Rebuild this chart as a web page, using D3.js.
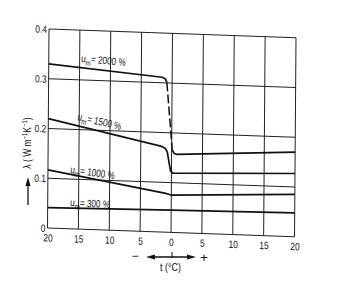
<!DOCTYPE html>
<html><head><meta charset="utf-8">
<script src="https://cdn.jsdelivr.net/npm/d3@7"></script>
<style>
html,body{margin:0;padding:0;background:#fff;}
svg text{font-family:"Liberation Sans",Arial,sans-serif;fill:#111;}
</style></head>
<body>
<svg id="c" width="347" height="285"></svg>
<script>
// ---- data ----
const xTicks = [-20,-15,-10,-5,0,5,10,15,20];
const xTickLabels = ["20","15","10","5","0","5","10","15","20"];
const yTicks = [0,0.1,0.2,0.3,0.4];
const yTickLabels = ["0","0.1","0.2","0.3","0.4"];
const seriesNames = ["2000","1500","1000","300"];
// u_m = 2000 %: frozen part, dashed transition, unfrozen part
const s2000Frozen = [[-20,0.330],[-1.6,0.311],[-1.1,0.308],[-0.85,0.301]];
const s2000Drop   = [[-0.85,0.301],[0.1,0.166]];
const s2000Thawed = [[0.1,0.166],[0.4,0.159],[0.8,0.157],[20,0.170]];
const s1500 = [[-20,0.220],[-1.6,0.172],[-1.0,0.168],[-0.7,0.161],[-0.15,0.123],[0.3,0.119],[20,0.127]];
const s1000 = [[-20,0.117],[-0.9,0.078],[-0.3,0.076],[0.1,0.075],[20,0.085]];
const s300  = [[-20,0.041],[0,0.0445],[20,0.048]];

// ---- layout ----
const W = 247, H = 199;
const SX = 0.8; // condensed look
const svg = d3.select("#c");
const g = svg.append("g").attr("transform","translate(49,29) matrix(1,0.0352,-0.0075,1,0,0)");
const x = d3.scaleLinear().domain([-20,20]).range([0,W]);
const y = d3.scaleLinear().domain([0,0.4]).range([H,0]);

// grid
g.append("g").selectAll("line").data(xTicks).join("line")
  .attr("x1",d=>x(d)).attr("x2",d=>x(d)).attr("y1",0).attr("y2",H)
  .attr("stroke","#222").attr("stroke-width",1);
g.append("g").selectAll("line").data(yTicks).join("line")
  .attr("x1",0).attr("x2",W).attr("y1",d=>y(d)).attr("y2",d=>y(d))
  .attr("stroke","#222").attr("stroke-width",1);

// tick labels via axes
const xAxis = d3.axisBottom(x).tickValues(xTicks).tickSize(0).tickPadding(6)
  .tickFormat((d,i)=>xTickLabels[i]);
const gx = g.append("g").attr("transform",`translate(0,${H})`).call(xAxis);
const yAxis = d3.axisLeft(y).tickValues(yTicks).tickSize(0).tickPadding(2)
  .tickFormat((d,i)=>yTickLabels[i]);
const gy = g.append("g").call(yAxis);
[gx,gy].forEach(a=>{a.select(".domain").remove();
  a.selectAll("text").attr("font-size",10.5).attr("fill","#111")
   .attr("transform",`scale(${SX},1)`)
   .style("font-family",'"Liberation Sans",Arial,sans-serif');});
gy.selectAll("text").attr("x",-2/SX);

// curves
const line = d3.line().x(d=>x(d[0])).y(d=>y(d[1]));
const solid = [s2000Frozen,s2000Thawed,s1500,s1000,s300];
g.append("g").selectAll("path").data(solid).join("path")
  .attr("d",line).attr("fill","none").attr("stroke","#111")
  .attr("stroke-width",1.7).attr("stroke-linejoin","round");
g.append("path").datum(s2000Drop).attr("d",line).attr("fill","none")
  .attr("stroke","#111").attr("stroke-width",1.5).attr("stroke-dasharray","9,3");

// curve labels
const labelPos = [[81,62,5],[77,120,13],[70,173,8],[70,206,3]];
seriesNames.forEach((n,i)=>{
  const [lx,ly,rot]=labelPos[i];
  const t = svg.append("text").attr("transform",`translate(${lx},${ly}) rotate(${rot}) scale(0.78,1)`)
    .attr("font-size",10.5);
  t.append("tspan").text("u");
  t.append("tspan").attr("font-size",8).attr("dy",3).text("m");
  t.append("tspan").attr("dy",-3).text("= " + n + " %");
});

// y title
const yt = svg.append("text").attr("transform","translate(31,143) rotate(-90) scale(0.85,1)")
  .attr("text-anchor","middle").attr("font-size",10);
yt.append("tspan").text("λ   ( W m");
yt.append("tspan").attr("font-size",7).attr("dy",-4).text("−1");
yt.append("tspan").attr("dy",4).text("K");
yt.append("tspan").attr("font-size",7).attr("dy",-4).text("−1");
yt.append("tspan").attr("dy",4).text(")");
svg.append("line").attr("x1",28).attr("x2",28).attr("y1",205).attr("y2",183)
  .attr("stroke","#111").attr("stroke-width",1.3);
svg.append("path").attr("d","M28,177 L25.5,186 L30.5,186 Z").attr("fill","#111");

// x title
svg.append("line").attr("x1",150).attr("x2",190).attr("y1",257).attr("y2",257)
  .attr("stroke","#111").attr("stroke-width",1.3);
svg.append("path").attr("d","M146,257 L155,254.5 L155,259.5 Z").attr("fill","#111");
svg.append("path").attr("d","M196,257 L187,254.5 L187,259.5 Z").attr("fill","#111");
svg.append("line").attr("x1",172).attr("x2",172).attr("y1",252).attr("y2",258)
  .attr("stroke","#111").attr("stroke-width",1);
svg.append("text").attr("x",135).attr("y",260).attr("text-anchor","middle").attr("font-size",12).text("−");
svg.append("text").attr("x",204).attr("y",262).attr("text-anchor","middle").attr("font-size",13).text("+");
svg.append("text").attr("transform","translate(160,271) scale(0.85,1)").attr("font-size",10.5).text("t  (°C)");
</script>
</body></html>
